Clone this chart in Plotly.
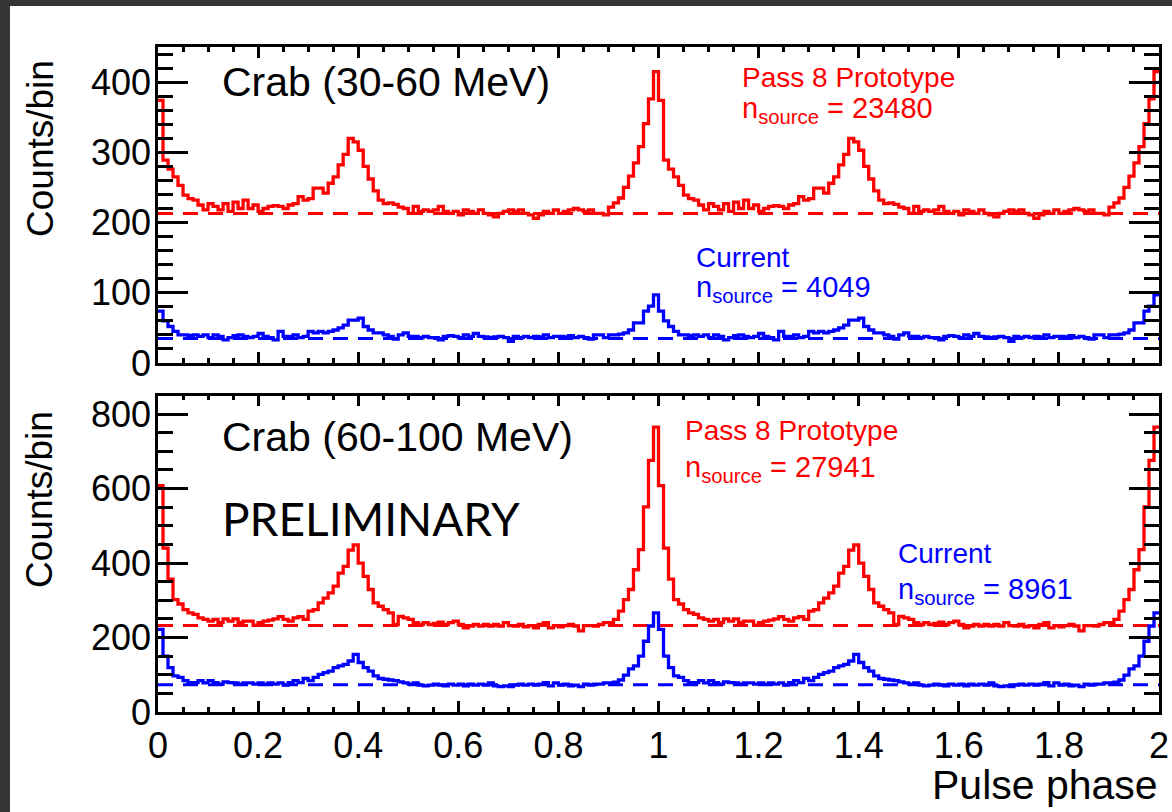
import numpy as np
import plotly.graph_objects as go

# ---------------- data (one pulse cycle, 100 bins of 0.01 in phase; plotted over two cycles) ----
bin_width = 0.01
n_cycles = 2

top_red_cycle = [374, 289, 276, 265, 253, 239, 234, 232, 225, 218,
                 227, 223, 218, 227, 216, 229, 220, 232, 220, 225,
                 216, 220, 223, 224, 223, 220, 225, 227, 237, 232,
                 234, 249, 249, 242, 256, 265, 282, 297, 320, 315,
                 303, 280, 262, 245, 232, 227, 228, 226, 222, 220,
                 213, 223, 216, 218, 216, 218, 223, 216, 213, 216,
                 211, 218, 216, 213, 218, 213, 211, 208, 213, 216,
                 218, 216, 218, 213, 211, 206, 211, 216, 213, 218,
                 213, 216, 218, 220, 218, 216, 218, 213, 213, 211,
                 222, 228, 235, 250, 266, 285, 308, 341, 376, 415]

top_blue_cycle = [74, 60, 52, 45, 40, 40, 39, 40, 38, 40,
                  36, 40, 38, 33, 36, 39, 40, 38, 36, 38,
                  42, 38, 36, 33, 45, 38, 38, 40, 36, 38,
                  45, 43, 45, 43, 45, 47, 50, 54, 61, 61,
                  64, 52, 47, 43, 43, 40, 38, 34, 40, 43,
                  38, 38, 36, 38, 36, 36, 33, 38, 39, 38,
                  36, 40, 38, 42, 38, 37, 36, 37, 38, 36,
                  31, 38, 36, 38, 36, 38, 37, 40, 36, 38,
                  38, 37, 39, 36, 38, 36, 34, 40, 40, 36,
                  40, 40, 41, 43, 47, 57, 57, 74, 81, 97]

bot_red_cycle = [608, 440, 357, 302, 290, 275, 266, 262, 253, 249,
                 244, 249, 240, 250, 244, 250, 240, 244, 244, 233,
                 240, 244, 247, 250, 256, 249, 244, 253, 256, 249,
                 271, 275, 293, 306, 320, 338, 373, 391, 435, 449,
                 400, 364, 329, 293, 284, 275, 266, 235, 257, 253,
                 249, 240, 235, 240, 235, 238, 241, 235, 240, 244,
                 235, 226, 231, 235, 231, 235, 231, 235, 231, 240,
                 232, 231, 235, 229, 232, 226, 235, 240, 226, 232,
                 229, 232, 235, 231, 218, 232, 232, 231, 235, 240,
                 240, 249, 271, 302, 329, 382, 436, 551, 676, 765]

bot_blue_cycle = [222, 150, 119, 97, 93, 84, 79, 79, 84, 78,
                  84, 79, 75, 81, 79, 78, 75, 78, 78, 75,
                  78, 75, 78, 75, 78, 72, 79, 84, 79, 90,
                  84, 93, 101, 106, 110, 119, 124, 128, 137, 155,
                  133, 119, 110, 97, 90, 88, 86, 84, 81, 78,
                  75, 78, 72, 70, 72, 75, 72, 70, 75, 72,
                  75, 70, 75, 72, 75, 72, 78, 70, 68, 70,
                  68, 72, 75, 72, 75, 72, 75, 79, 70, 78,
                  72, 75, 70, 72, 68, 75, 72, 75, 75, 78,
                  78, 80, 86, 99, 116, 124, 150, 190, 231, 266]

top_red_bkg = 213
top_blue_bkg = 35
bot_red_bkg = 232
bot_blue_bkg = 73

top_label = "Crab (30-60 MeV)"
bot_label = "Crab (60-100 MeV)"
top_red_n = 23480
top_blue_n = 4049
bot_red_n = 27941
bot_blue_n = 8961

x_ticks = [0, 0.2, 0.4, 0.6, 0.8, 1, 1.2, 1.4, 1.6, 1.8, 2]
x_ticktext = ["0", "0.2", "0.4", "0.6", "0.8", "1", "1.2", "1.4", "1.6", "1.8", "2"]

RED = "#ff0000"
BLUE = "#0000ff"

# ---------------- geometry helpers ----------------
W, H = 1172, 812
PL, PR, PT, PB = 158, 1159, 47, 712   # plot area in pixels


def px(xp):
    return (xp - PL) / (PR - PL)


def py(yp):
    return (PB - yp) / (PB - PT)


n_bins = len(top_red_cycle) * n_cycles
edges = np.round(np.arange(n_bins + 1) * bin_width, 4)


def step_y(cycle):
    full = list(cycle) * n_cycles
    return full + [full[-1]]


fig = go.Figure()

FONT = "Liberation Sans, Arial, Helvetica, sans-serif"

# dashed background levels
for bkg, col, xa, ya in [(top_red_bkg, RED, "x2", "y2"), (top_blue_bkg, BLUE, "x2", "y2"),
                         (bot_red_bkg, RED, "x", "y"), (bot_blue_bkg, BLUE, "x", "y")]:
    fig.add_trace(go.Scatter(x=[edges[0], edges[-1]], y=[bkg, bkg], mode="lines",
                             line=dict(color=col, width=3, dash="15px,10px"),
                             xaxis=xa, yaxis=ya, showlegend=False, hoverinfo="skip"))

# histograms
for cyc, col, xa, ya in [(top_red_cycle, RED, "x2", "y2"), (top_blue_cycle, BLUE, "x2", "y2"),
                         (bot_red_cycle, RED, "x", "y"), (bot_blue_cycle, BLUE, "x", "y")]:
    fig.add_trace(go.Scatter(x=edges, y=step_y(cyc), mode="lines", line_shape="hv",
                             line=dict(color=col, width=3.3),
                             xaxis=xa, yaxis=ya, showlegend=False))

axis_common = dict(showline=True, linecolor="black", linewidth=2.5, mirror="allticks",
                   ticks="inside", tickcolor="black", tickwidth=2.5,
                   showgrid=False, zeroline=False, automargin=False,
                   tickfont=dict(family=FONT, size=36, color="black"))

fig.update_layout(
    width=W, height=H, autosize=False,
    margin=dict(l=PL, r=W - PR, t=PT, b=H - PB, pad=0, autoexpand=False),
    paper_bgcolor="white",
    plot_bgcolor="white",
    showlegend=False,
    xaxis=dict(domain=[0, 1], anchor="y", range=[0, 2], tickvals=x_ticks, ticktext=x_ticktext,
               ticklen=11, minor=dict(ticks="inside", dtick=0.05, ticklen=5, tickwidth=2.5,
                                      tickcolor="black"),
               **axis_common),
    xaxis2=dict(domain=[0, 1], anchor="y2", range=[0, 2], matches="x", tickvals=x_ticks,
                showticklabels=False, ticklen=11,
                minor=dict(ticks="inside", dtick=0.05, ticklen=5, tickwidth=2.5, tickcolor="black"),
                **axis_common),
    yaxis=dict(domain=[0, py(395.5)], anchor="x", range=[0, 850], dtick=200, ticklen=30,
               ticklabelstandoff=-3,
               minor=dict(ticks="inside", dtick=50, ticklen=15, tickwidth=2.5, tickcolor="black"),
               **axis_common),
    yaxis2=dict(domain=[py(363), 1], anchor="x2", range=[0, 450], dtick=100, ticklen=30,
                ticklabelstandoff=-3,
                minor=dict(ticks="inside", dtick=20, ticklen=15, tickwidth=2.5, tickcolor="black"),
                **axis_common),
)

# dark page border (top and left strips)
DARK = "#363636"
fig.add_shape(type="rect", xref="paper", yref="paper", layer="below",
              x0=px(-5), x1=px(W + 5), y0=py(6), y1=py(-5),
              fillcolor=DARK, line=dict(width=0))
fig.add_shape(type="rect", xref="paper", yref="paper", layer="below",
              x0=px(-5), x1=px(10), y0=py(H + 5), y1=py(-5),
              fillcolor=DARK, line=dict(width=0))


def label(text, xp, yp, size, color="black", family=FONT, angle=0, xanchor="left"):
    fig.add_annotation(text=text, x=px(xp), y=py(yp), xref="paper", yref="paper",
                       xanchor=xanchor, yanchor="middle", showarrow=False, textangle=angle,
                       font=dict(family=family, size=size, color=color))


label(top_label, 220, 82, 41)
label(bot_label, 220, 437, 41)
label("PRELIMINARY", 220, 518, 46, family="Lato, Carlito, sans-serif")

label("Pass 8 Prototype", 740, 78, 28, RED)
label(f"n<sub>source</sub> = {top_red_n}", 740, 110, 29, RED)
label("Current", 694, 257, 28, BLUE)
label(f"n<sub>source</sub> = {top_blue_n}", 694, 289, 29, BLUE)

label("Pass 8 Prototype", 683, 431, 28, RED)
label(f"n<sub>source</sub> = {bot_red_n}", 683, 469, 29, RED)
label("Current", 896, 553, 28, BLUE)
label(f"n<sub>source</sub> = {bot_blue_n}", 896, 591, 29, BLUE)

label("Counts/bin", 40, 149, 37, angle=-90, xanchor="center")
label("Counts/bin", 40, 500, 37, angle=-90, xanchor="center")
label("Pulse phase", 1160, 785, 41, xanchor="right")

fig.write_html("out.html",
               config={"displayModeBar": False, "responsive": False},
               post_script=("document.documentElement.style.overflow='hidden';"
                            "document.body.style.margin='0';document.body.style.overflow='hidden';"))
